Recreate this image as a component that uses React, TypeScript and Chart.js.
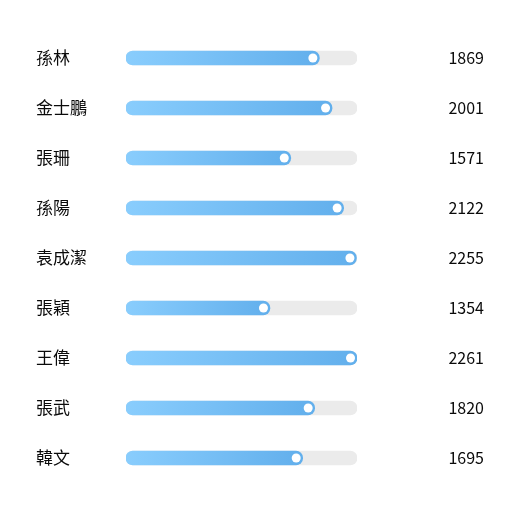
import Chart from "chart.js/auto";
import { useEffect, useRef } from "react";

const names = ["孫林", "金士鵬", "張珊", "孫陽", "袁成潔", "張穎", "王偉", "張武", "韓文"];
const amounts = [1869, 2001, 1571, 2122, 2255, 1354, 2261, 1820, 1695];
const maxAmount = Math.max(...amounts);
const trackValues = names.map(() => maxAmount);
// every filled bar starts with a round cap as wide as the bar, so the value axis starts a bit below zero
const capOffset = (maxAmount * 14) / 217;

const FONT = "'Noto Sans CJK TC', 'Noto Sans', sans-serif";

// white knob at the end of every filled bar
const knobPlugin = {
  id: "knob",
  afterDatasetsDraw(chart: any) {
    const meta = chart.getDatasetMeta(0);
    const ctx = chart.ctx;
    ctx.save();
    meta.data.forEach((bar: any) => {
      ctx.beginPath();
      ctx.arc(bar.x - 6.5, bar.y, 4.5, 0, Math.PI * 2);
      ctx.fillStyle = "#ffffff";
      ctx.fill();
    });
    ctx.restore();
  },
};

export default function App() {
  const chartRef = useRef<HTMLCanvasElement>(null);

  useEffect(() => {
    if (!chartRef.current) return;

    const chart = new Chart(chartRef.current, {
      type: "bar",
      data: {
        labels: names,
        datasets: [
          {
            data: amounts,
            base: -capOffset,
            order: 1,
            grouped: false,
            barThickness: 14,
            borderRadius: 7,
            borderSkipped: false,
            backgroundColor: (c: any) => {
              const { chart, parsed } = c;
              const area = chart.chartArea;
              const x = chart.scales?.x;
              if (!area || !x || !parsed) return "#76bff6";
              const end = x.getPixelForValue(parsed.x);
              const g = chart.ctx.createLinearGradient(area.left, 0, end, 0);
              g.addColorStop(0, "#89cdfd");
              g.addColorStop(1, "#62afec");
              return g;
            },
          },
          {
            data: trackValues,
            base: -capOffset,
            order: 2,
            grouped: false,
            barThickness: 14,
            borderRadius: 7,
            borderSkipped: false,
            backgroundColor: "#ebebeb",
          },
        ],
      },
      options: {
        indexAxis: "y",
        animation: false,
        responsive: true,
        maintainAspectRatio: false,
        layout: { padding: { left: 36, right: 33, top: 33, bottom: 34 } },
        plugins: { legend: { display: false }, tooltip: { enabled: false } },
        scales: {
          x: { display: false, min: -capOffset, max: maxAmount },
          y: {
            position: "left",
            grid: { display: false },
            border: { display: false },
            ticks: {
              crossAlign: "far",
              padding: 0,
              color: "#0a0a0a",
              font: { family: FONT, size: 17 },
            },
            afterFit: (s: any) => {
              s.width = 90;
            },
          },
          y2: {
            type: "category",
            position: "right",
            labels: amounts.map(String),
            offset: true,
            grid: { display: false },
            border: { display: false },
            ticks: {
              crossAlign: "far",
              padding: 0,
              color: "#0a0a0a",
              font: { family: FONT, size: 16 },
            },
            afterFit: (s: any) => {
              s.width = 127;
            },
          },
        },
      } as any,
      plugins: [knobPlugin],
    });

    return () => chart.destroy();
  }, []);

  return (
    <div style={{ position: "fixed", left: 0, top: 0, width: 517, height: 517, background: "#fff" }}>
      <canvas ref={chartRef}></canvas>
    </div>
  );
}
